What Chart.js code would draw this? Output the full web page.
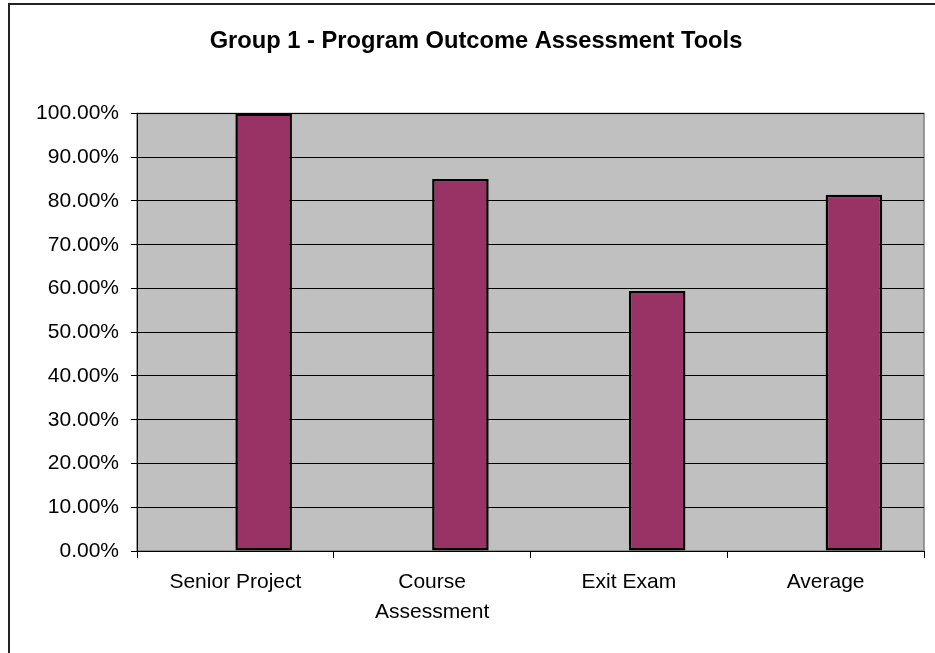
<!DOCTYPE html>
<html>
<head>
<meta charset="utf-8">
<script src="https://cdn.jsdelivr.net/npm/chart.js@4.4.1/dist/chart.umd.min.js"></script>
<style>
  html, body { margin: 0; padding: 0; background: #ffffff; }
  #wrap { width: 935px; height: 653px; position: relative; }
</style>
</head>
<body>
<div id="wrap"><canvas id="c" width="935" height="653"></canvas></div>
<script>
const titleText = 'Group 1 - Program Outcome Assessment Tools';
const categories = ['Senior Project', ['Course', 'Assessment'], 'Exit Exam', 'Average'];
const seriesValues = [100, 85, 59.4, 81.4];
const emptySeries = [null, null, null, null];
const yTickValues = [0, 10, 20, 30, 40, 50, 60, 70, 80, 90, 100];

const frameAndPlot = {
  id: 'frameAndPlot',
  beforeDraw(chart) {
    const ctx = chart.ctx;
    const a = chart.chartArea;
    ctx.save();
    ctx.fillStyle = '#ffffff';
    ctx.fillRect(0, 0, chart.width, chart.height);
    ctx.strokeStyle = '#222222';
    ctx.lineWidth = 2;
    ctx.strokeRect(9, 4, chart.width + 20, chart.height + 20);
    ctx.fillStyle = '#c0c0c0';
    ctx.fillRect(a.left, a.top, a.right - a.left, a.bottom - a.top);
    ctx.strokeStyle = '#808080';
    ctx.lineWidth = 1.5;
    ctx.strokeRect(a.left, a.top, a.right - a.left, a.bottom - a.top);
    ctx.restore();
  }
};

new Chart(document.getElementById('c'), {
  type: 'bar',
  data: {
    labels: categories,
    datasets: [
      { label: '', data: emptySeries, backgroundColor: '#993366' },
      {
        label: 'Percent',
        data: seriesValues,
        backgroundColor: '#993366',
        borderColor: '#000000',
        borderWidth: 2.5,
        borderSkipped: false
      }
    ]
  },
  options: {
    responsive: false,
    animation: false,
    layout: { padding: { left: 28, right: 11, top: 0, bottom: 0 } },
    datasets: { bar: { categoryPercentage: 0.575, barPercentage: 1.0 } },
    plugins: {
      legend: { display: false },
      tooltip: { enabled: false },
      title: {
        display: true,
        text: titleText,
        color: '#000000',
        font: { family: 'Liberation Sans, Arial, sans-serif', size: 23.7, weight: 'bold', lineHeight: 1.2 },
        padding: { top: 27, bottom: 58 }
      }
    },
    scales: {
      x: {
        grid: { display: true, drawOnChartArea: false, drawTicks: true, tickLength: 7, color: '#000000', offset: true },
        border: { display: true, color: '#000000', width: 1 },
        ticks: {
          color: '#000000',
          padding: 9,
          maxRotation: 0,
          autoSkip: false,
          font: { family: 'Liberation Sans, Arial, sans-serif', size: 21, lineHeight: 1.43 }
        },
        afterFit(scale) { scale.height = 102; }
      },
      y: {
        min: 0,
        max: 100,
        afterBuildTicks(scale) { scale.ticks = yTickValues.map(v => ({ value: v })); },
        grid: { color: '#000000', lineWidth: 1, tickLength: 6, drawTicks: true },
        border: { display: true, color: '#000000', width: 1 },
        ticks: {
          color: '#000000',
          padding: 12,
          font: { family: 'Liberation Sans, Arial, sans-serif', size: 21 },
          callback: (v) => Number(v).toFixed(2) + '%'
        },
        afterFit(scale) { scale.width = 109; }
      }
    }
  },
  plugins: [frameAndPlot]
});
</script>
</body>
</html>
